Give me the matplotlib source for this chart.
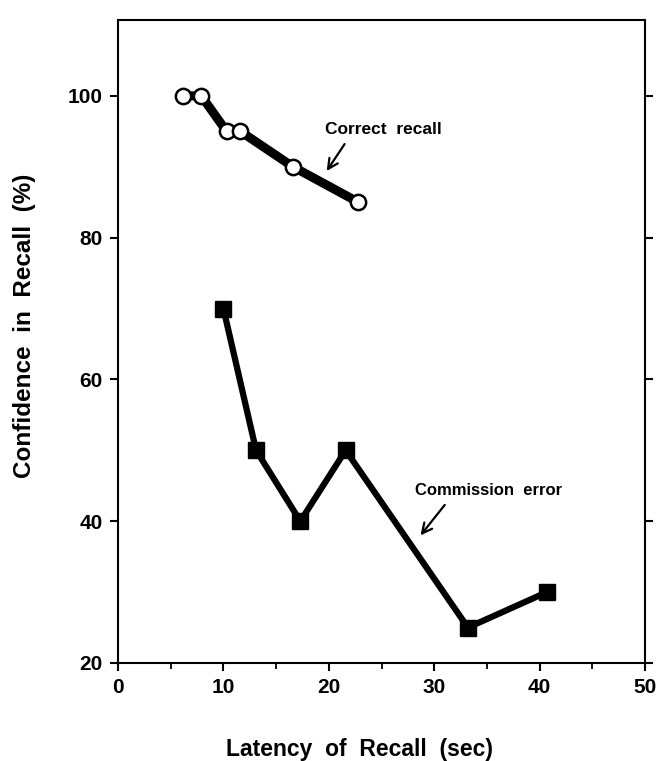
import matplotlib
matplotlib.use("Agg")
import matplotlib.pyplot as plt
from matplotlib.ticker import MultipleLocator

plt.rcParams['font.family'] = ['Liberation Sans', 'DejaVu Sans']
plt.rcParams['font.weight'] = 'bold'

# correct recall (open circles)
correct_x = [6.2, 7.9, 10.3, 11.6, 16.6, 22.8]
correct_y = [100, 100, 95, 95, 90, 85]

# commission errors (filled squares)
error_x = [10.0, 13.1, 17.3, 21.6, 33.2, 40.7]
error_y = [70, 50, 40, 50, 25, 30]

fig = plt.figure(figsize=(6.6, 7.61), dpi=100)
ax = fig.add_axes([118/660, 1 - 663/761, (645 - 118)/660, (663 - 20)/761])

ax.plot(correct_x, correct_y, color='black', lw=6.5, marker='o', ms=11,
        mfc='white', mec='black', mew=1.8, solid_capstyle='round')
ax.plot(error_x, error_y, color='black', lw=4.5, marker='s', ms=11,
        mfc='black', mec='black')

ax.set_xlim(0, 50)
ax.set_ylim(20, 110.7)
ax.xaxis.set_major_locator(MultipleLocator(10))
ax.xaxis.set_minor_locator(MultipleLocator(5))
ax.set_yticks([20, 40, 60, 80, 100])
ax.tick_params(axis='both', which='major', direction='out', length=6, width=1.5,
               labelsize=15, pad=5)
ax.tick_params(axis='x', which='minor', direction='out', length=4, width=1.3)
ax.tick_params(axis='y', right=True, which='major', labelright=False)
for s in ax.spines.values():
    s.set_linewidth(1.5)

ax.set_xlabel('Latency  of  Recall  (sec)', fontsize=16.5, fontweight='bold', va='center')
ax.xaxis.set_label_coords(0.459, -0.135)
ax.set_ylabel('Confidence  in  Recall  (%)', fontsize=17.5, fontweight='bold', va='center')
ax.yaxis.set_label_coords(-0.178, 0.525)

ax.text(19.6, 95.3, 'Correct  recall', fontsize=12.5, fontweight='bold',
        ha='left', va='center')
ax.annotate('', xy=(19.8, 89.4), xytext=(21.5, 93.2),
            arrowprops=dict(arrowstyle='->', lw=1.6, color='black',
                            mutation_scale=18, shrinkA=0, shrinkB=0))
ax.text(28.2, 44.4, 'Commission  error', fontsize=12, fontweight='bold',
        ha='left', va='center')
ax.annotate('', xy=(28.7, 38.0), xytext=(31.0, 42.3),
            arrowprops=dict(arrowstyle='->', lw=1.6, color='black',
                            mutation_scale=18, shrinkA=0, shrinkB=0))

fig.savefig('out.png', dpi=100)
